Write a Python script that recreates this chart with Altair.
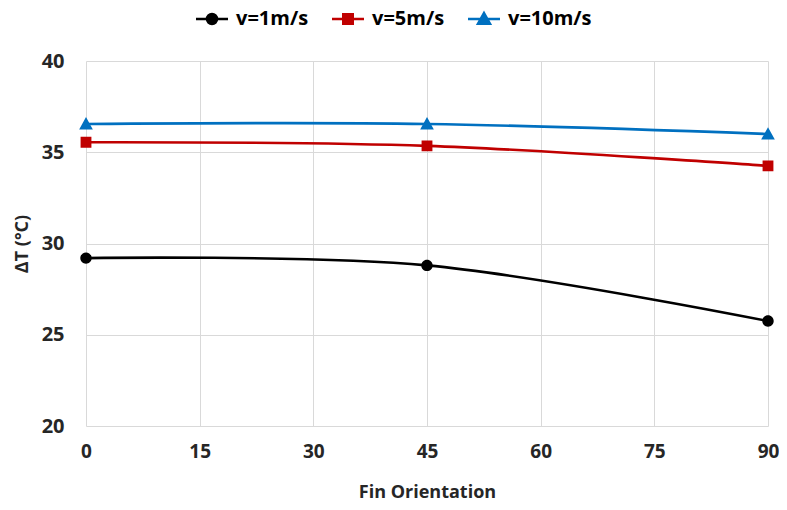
import altair as alt
import pandas as pd

orientation = [0, 45, 90]
series_names = ["v=1m/s", "v=5m/s", "v=10m/s"]
dt_v1 = [29.2, 28.8, 25.75]
dt_v5 = [35.55, 35.35, 34.25]
dt_v10 = [36.55, 36.55, 36.0]
colors = ["#000000", "#C00000", "#0070C0"]
x_ticks = [0, 15, 30, 45, 60, 75, 90]
y_ticks = [20, 25, 30, 35, 40]

# custom symbols: marker + a horizontal stroke (only stroked in the legend)
shapes = [
    "M-3.2,0H3.2M1,0A1,1 0 1,1 -1,0A1,1 0 1,1 1,0Z",
    "M-3.2,0H3.2M-0.95,-0.95H0.95V0.95H-0.95Z",
    "M-3.2,0H3.2M0,-1.2L1.2,0.95H-1.2Z",
]

rows = []
for name, vals in zip(series_names, [dt_v1, dt_v5, dt_v10]):
    for xo, v in zip(orientation, vals):
        rows.append({"orientation": xo, "dT": v, "series": name})
df = pd.DataFrame(rows)

FONT = "Open Sans"

legend = alt.Legend(
    title=None, orient="none", direction="horizontal",
    legendX=116, legendY=-52,
    symbolSize=100, symbolStrokeWidth=2.5,
    symbolStrokeColor=alt.ExprRef("scale('color', datum.value)"),
    labelOffset=14, columnPadding=18, labelLimit=300,
    labelFont=FONT, labelFontSize=20, labelFontWeight="bold",
    labelColor="#000000")

x = alt.X("orientation:Q",
          scale=alt.Scale(domain=[0, 90], nice=False),
          axis=alt.Axis(values=x_ticks, title="Fin Orientation", format="d",
                        labelPadding=16, titlePadding=22, labelFlush=False))
y = alt.Y("dT:Q",
          scale=alt.Scale(domain=[20, 40], nice=False),
          axis=alt.Axis(values=y_ticks, title="ΔT (°C)", format="d",
                        labelPadding=22, titlePadding=10))
color = alt.Color("series:N", scale=alt.Scale(domain=series_names, range=colors),
                  legend=legend)
shape = alt.Shape("series:N", scale=alt.Scale(domain=series_names, range=shapes),
                  legend=legend)

lines = alt.Chart(df).mark_line(interpolate="cardinal", strokeWidth=2.6).encode(
    x=x, y=y, color=color, detail="series:N")

points = alt.Chart(df).mark_point(filled=True, size=130, opacity=1, strokeWidth=0).encode(
    x=x, y=y, color=color, shape=shape)

chart = (lines + points).properties(
    width=682, height=365,
    autosize=alt.AutoSizeParams(type="none"),
    padding={"left": 78, "top": 53, "right": 11, "bottom": 76},
    background="white",
).configure_view(stroke=None).configure_axis(
    grid=True, gridColor="#d9d9d9", gridWidth=1,
    domain=False, ticks=False,
    labelFont=FONT, labelFontSize=20, labelFontWeight="bold", labelColor="#262626",
    titleFont=FONT, titleFontSize=18, titleFontWeight="bold", titleColor="#262626",
).configure_axisX(labelFontSize=19)

chart.save("out.html", embed_options={"renderer": "svg", "actions": False})
